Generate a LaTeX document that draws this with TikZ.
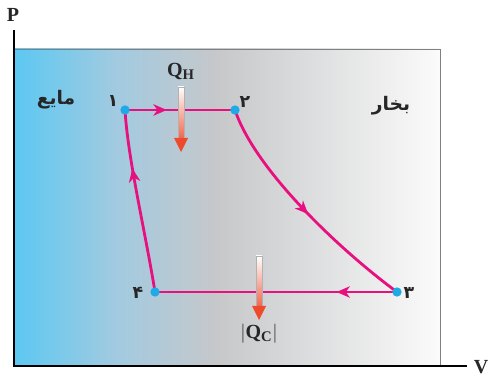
\documentclass[tikz,border=0pt]{standalone}
\usepackage{fontspec}
\setmainfont{Liberation Serif}
\newfontfamily\arabicfont[Script=Arabic]{DejaVu Sans}
\TeXXeTstate=1
\usetikzlibrary{decorations.markings,arrows.meta}
\definecolor{bgA}{HTML}{5CC8F2}
\definecolor{bgB}{HTML}{A2CAE0}
\definecolor{bgC}{HTML}{C7C8CA}
\definecolor{bgD}{HTML}{FBFBFB}
\definecolor{cyc}{HTML}{E8107F}
\definecolor{pt}{HTML}{1EAAE6}
\definecolor{qred}{HTML}{EE4A2C}
\pgfdeclarehorizontalshading{bgshade}{100bp}{color(0bp)=(bgA); color(25bp)=(bgA); color(37bp)=(bgB); color(49bp)=(bgC); color(75bp)=(bgD); color(100bp)=(bgD)}
\tikzset{
  cycline/.style={draw=cyc, line width=2.1pt},
  midarrow/.style={postaction={decorate}, decoration={markings, mark=at position #1 with {\arrow{Stealth[length=10pt,width=8.5pt,inset=3pt]}}}},
  ptdot/.style={circle, fill=pt, inner sep=0pt, minimum size=7pt},
  lbl/.style={font=\arabicfont\bfseries\fontsize{13}{14}\selectfont, text=black!85},
  plbl/.style={font=\arabicfont\bfseries\fontsize{14}{15}\selectfont, text=black!85},
  qlbl/.style={font=\bfseries\fontsize{15}{16}\selectfont, text=black!85},
}
\begin{document}
\begin{tikzpicture}[x=0.75pt,y=-0.75pt]
\useasboundingbox (0,0) rectangle (489,377);
% background
\path[shading=bgshade] (14,49) rectangle (440,366);
\draw[black!50, line width=0.6pt] (14,49) -- (440,49) -- (440,366);
% axes
\coordinate (O) at (14,366);
\coordinate (Ytop) at (14,30);
\coordinate (Xend) at (467,366);
\draw[black, line width=0.8pt] (Ytop) -- (O) -- (Xend);
\node[qlbl] (P) at (13,15) {P};
\node[qlbl] (V) at (481,367) {V};
% points
\coordinate (p1) at (125,110);
\coordinate (p2) at (235,110);
\coordinate (p3) at (397,292);
\coordinate (p4) at (155,292);
% cycle
\draw[cycline, midarrow=0.38] (p1) -- (p2);
\draw[cycline, midarrow=0.52] (p2) .. controls (255,170) and (340,250) .. (p3);
\draw[cycline, midarrow=0.25] (p3) -- (p4);
\draw[cycline, midarrow=0.68] (p4) .. controls (145,230) and (128,160) .. (p1);
\node[ptdot] (d1) at (p1) {};
\node[ptdot] (d2) at (p2) {};
\node[ptdot] (d3) at (p3) {};
\node[ptdot] (d4) at (p4) {};
% number labels
\node[lbl] (n1) at (113,101) {\beginR ۱\endR};
\node[lbl] (n2) at (245,102) {\beginR ۲\endR};
\node[lbl] (n3) at (409,293) {\beginR ۳\endR};
\node[lbl] (n4) at (138,293) {\beginR ۴\endR};
% phase labels
\node[plbl] (liq) at (56,100) {\beginR مایع\endR};
\node[plbl] (vap) at (391,106) {\beginR بخار\endR};
% Q_H arrow
\shade[top color=white, bottom color=qred!85, draw=black!30, line width=0.3pt] (178,87) rectangle (184,139);
\fill[qred] (174,138) -- (188,138) -- (181,152) -- cycle;
\node[qlbl] (QH) at (181,72) {Q\textsubscript{\fontsize{11}{12}\selectfont H}};
% Q_C arrow
\shade[top color=white, bottom color=qred!85, draw=black!30, line width=0.3pt] (256,256) rectangle (262,307);
\fill[qred] (252,306) -- (266,306) -- (259,320) -- cycle;
\node[qlbl] (QC) at (259,333) {$\Bigl|\mbox{Q\textsubscript{\fontsize{11}{12}\selectfont C}}\Bigr|$};
\end{tikzpicture}
\end{document}
